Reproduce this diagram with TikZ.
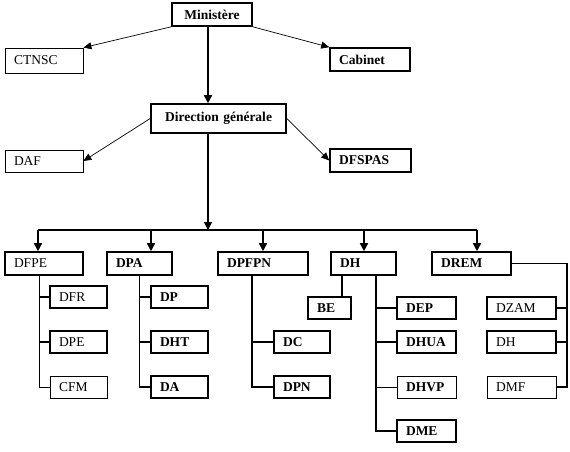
\documentclass[tikz,border=0pt]{standalone}
\usepackage{fontspec}
\setmainfont{Liberation Serif}
\usepackage{tikz}
\usetikzlibrary{arrows.meta,positioning,calc}
\tikzset{
  orgarrow/.style={-{Triangle[length=8pt,width=8pt]}, line width=1.6pt},
  orgthin/.style={-{Triangle[length=8pt,width=7pt]}, line width=0.7pt},
  orglink/.style={line width=1.6pt},
  orglinkthin/.style={line width=0.8pt}
}

\begin{document}
\begin{tikzpicture}[
  x=1pt, y=-1pt,
  font=\fontsize{13.5}{15}\selectfont,
  unit/.style={draw, line width=1.6pt, font=\fontsize{13.5}{15}\selectfont\bfseries,
    text width=#1-18pt, align=left, inner xsep=9pt, inner ysep=0pt, minimum height=22pt},
  unitlight/.style={unit=#1, line width=0.8pt, font=\fontsize{13.5}{15}\selectfont},
  head/.style={unit=#1, align=center}
]
\useasboundingbox (0,0) rectangle (570,451);

% top level
\node[head=80pt, minimum height=23pt] at (212,14.5) (min) {Ministère};
\node[unitlight=78pt, minimum height=25pt] at (44,60.5) (ctnsc) {CTNSC};
\node[unit=80pt, minimum height=23pt] at (370,59.5) (cab) {Cabinet};
\node[head=135pt, minimum height=29pt] at (218.5,118.5) (dg) {Direction générale};
\node[unitlight=78pt] at (44,161) (daf) {DAF};
\node[unit=81pt, minimum height=23pt] at (370.5,160.5) (dfspas) {DFSPAS};

% directions
\node[unitlight=78pt, line width=1.6pt, minimum height=23pt] at (44,263.5) (dfpe) {DFPE};
\node[unit=65pt, minimum height=23pt] at (139.5,263.5) (dpa) {DPA};
\node[unit=90pt, minimum height=23pt] at (263,263.5) (dpfpn) {DPFPN};
\node[unit=65pt, minimum height=23pt] at (363.5,263.5) (dh) {DH};
\node[unit=79pt, minimum height=23pt] at (471.5,263.5) (drem) {DREM};

% services
\node[unitlight=57pt, line width=1.6pt] at (78.5,297) (dfr) {DFR};
\node[unitlight=57pt, line width=1.6pt] at (78.5,342) (dpe) {DPE};
\node[unitlight=57pt] at (78.5,387) (cfm) {CFM};
\node[unit=57pt] at (179.5,297) (dp) {DP};
\node[unit=57pt] at (179.5,342) (dht) {DHT};
\node[unit=57pt] at (179.5,387) (da) {DA};
\node[unit=56pt] at (302,342) (dc) {DC};
\node[unit=56pt] at (302,387) (dpn) {DPN};
\node[unit=43pt] at (329.5,308) (be) {BE};
\node[unit=59pt] at (426.5,308) (dep) {DEP};
\node[unit=59pt] at (426.5,342) (dhua) {DHUA};
\node[unit=59pt, line width=0.8pt] at (426.5,387) (dhvp) {DHVP};
\node[unit=59pt] at (426.5,431) (dme) {DME};
\node[unitlight=69pt, line width=1.6pt] at (521.5,308) (dzam) {DZAM};
\node[unitlight=69pt, line width=1.6pt] at (521.5,342) (dhrem) {DH};
\node[unitlight=69pt] at (521.5,387) (dmf) {DMF};

% upper arrows
\coordinate (busin) at (208,230);
\draw[orgthin] (min.south west) -- (ctnsc.north east);
\draw[orgthin] (min.south east) -- (cab.north west);
\draw[orgarrow] (min.south -| busin) -- (dg.north -| busin);
\draw[orgthin] (dg.west) -- (daf.east);
\draw[orgthin] (dg.east) -- (dfspas.west);
\draw[orgarrow] (dg.south -| busin) -- (busin);

% bus to directions
\coordinate (tap1) at (38,230);
\coordinate (tap2) at (151,230);
\coordinate (tap3) at (263,230);
\coordinate (tap4) at (364,230);
\coordinate (tap5) at (477,230);
\draw[orglink] (tap1) -- (tap5);
\foreach \t/\d in {tap1/dfpe, tap2/dpa, tap3/dpfpn, tap4/dh, tap5/drem}
  \draw[orgarrow] (\t) -- (\t |- \d.north);

% DFPE
\draw[orglinkthin] ([xshift=-5pt]dfpe.south) |- (cfm.west);
\draw[orglink] ([xshift=-5pt]dfpe.south |- dfr.west) -- (dfr.west);
\draw[orglink] ([xshift=-5pt]dfpe.south |- dpe.west) -- (dpe.west);
% DPA
\draw[orglink] (dpa.south) |- (da.west);
\foreach \s in {dp, dht}
  \draw[orglink] (dpa.south |- \s.west) -- (\s.west);
% DPFPN
\draw[orglink] ([xshift=-11pt]dpfpn.south) |- (dpn.west);
\draw[orglink] ([xshift=-11pt]dpfpn.south |- dc.west) -- (dc.west);
% DH
\draw[orglink] ([xshift=-21.5pt]dh.south) -- ([xshift=-21.5pt]dh.south |- be.north);
\draw[orglink] ([xshift=12.5pt]dh.south) |- (dme.west);
\foreach \s in {dep, dhua}
  \draw[orglink] ([xshift=12.5pt]dh.south |- \s.west) -- (\s.west);
\draw[orglinkthin] ([xshift=12.5pt]dh.south |- dhvp.west) -- (dhvp.west);
% DREM
\coordinate (dremspine) at ([xshift=55pt]drem.east);
\draw[orglink] (drem.east) -- (dremspine) |- (dmf.east);
\foreach \s in {dzam, dhrem}
  \draw[orglink] (\s.east) -- (\s.east -| dremspine);
\end{tikzpicture}
\end{document}
